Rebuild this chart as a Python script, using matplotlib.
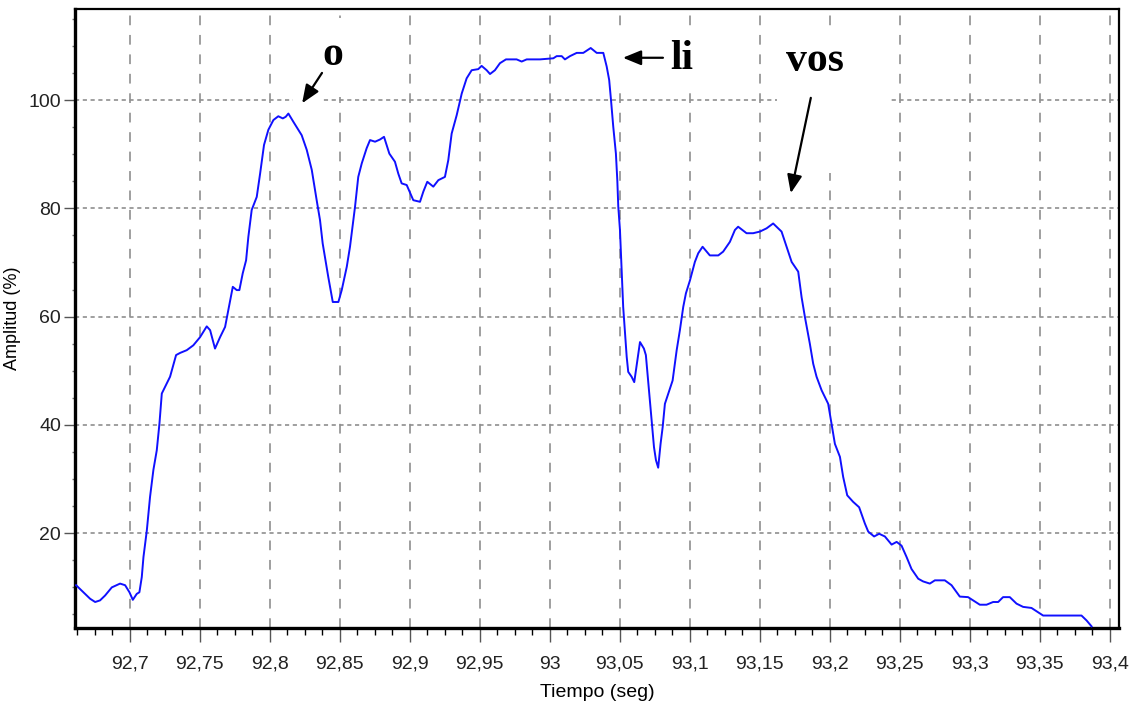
import matplotlib
matplotlib.use("Agg")
import matplotlib.pyplot as plt
from matplotlib.ticker import MultipleLocator, AutoMinorLocator, FuncFormatter
from matplotlib.patches import Rectangle

# Amplitude envelope of the spoken word, time in seconds
tiempo = [
    92.6618, 92.6670, 92.6718, 92.6754, 92.6789, 92.6825, 92.6873, 92.6932, 92.6968, 92.6999,
    92.7023, 92.7051, 92.7070, 92.7087, 92.7099, 92.7123, 92.7146, 92.7170, 92.7194, 92.7213,
    92.7230, 92.7253, 92.7289, 92.7332, 92.7361, 92.7408, 92.7455, 92.7503, 92.7551, 92.7575,
    92.7610, 92.7646, 92.7682, 92.7705, 92.7737, 92.7765, 92.7784, 92.7808, 92.7832, 92.7848,
    92.7872, 92.7908, 92.7932, 92.7960, 92.7991, 92.8027, 92.8062, 92.8094, 92.8115, 92.8134,
    92.8169, 92.8229, 92.8265, 92.8301, 92.8336, 92.8360, 92.8379, 92.8419, 92.8451, 92.8491,
    92.8515, 92.8551, 92.8574, 92.8610, 92.8633, 92.8658, 92.8693, 92.8717, 92.8753, 92.8788,
    92.8817, 92.8855, 92.8895, 92.8919, 92.8943, 92.8979, 92.9026, 92.9074, 92.9098, 92.9126,
    92.9169, 92.9205, 92.9252, 92.9276, 92.9300, 92.9336, 92.9372, 92.9407, 92.9443, 92.9490,
    92.9514, 92.9550, 92.9574, 92.9609, 92.9645, 92.9688, 92.9764, 92.9800, 92.9836, 92.9931,
    93.0026, 93.0050, 93.0086, 93.0109, 93.0145, 93.0193, 93.0240, 93.0293, 93.0336, 93.0383,
    93.0407, 93.0425, 93.0438, 93.0454, 93.0473, 93.0483, 93.0490, 93.0502, 93.0507, 93.0525,
    93.0538, 93.0550, 93.0561, 93.0585, 93.0604, 93.0621, 93.0645, 93.0673, 93.0687, 93.0711,
    93.0728, 93.0745, 93.0759, 93.0775, 93.0792, 93.0807, 93.0823, 93.0847, 93.0878, 93.0907,
    93.0930, 93.0954, 93.0973, 93.1002, 93.1037, 93.1061, 93.1092, 93.1144, 93.1204, 93.1239,
    93.1287, 93.1323, 93.1346, 93.1406, 93.1453, 93.1501, 93.1549, 93.1596, 93.1656, 93.1692,
    93.1728, 93.1775, 93.1799, 93.1823, 93.1858, 93.1882, 93.1906, 93.1942, 93.1989, 93.2013,
    93.2037, 93.2073, 93.2096, 93.2125, 93.2167, 93.2210, 93.2251, 93.2275, 93.2317, 93.2353,
    93.2394, 93.2442, 93.2478, 93.2513, 93.2549, 93.2584, 93.2632, 93.2667, 93.2715, 93.2751,
    93.2822, 93.2870, 93.2929, 93.2988, 93.3024, 93.3072, 93.3120, 93.3167, 93.3203, 93.3238,
    93.3286, 93.3334, 93.3381, 93.3441, 93.3488, 93.3524, 93.3595, 93.3798, 93.3834, 93.3870,
]
amplitud = [
    10.4, 9.1, 7.9, 7.3, 7.6, 8.5, 10.0, 10.7, 10.4, 9.1,
    7.7, 8.8, 9.1, 11.9, 15.6, 20.5, 26.7, 31.7, 35.3, 40.2,
    45.8, 47.0, 48.9, 52.9, 53.3, 53.8, 54.7, 56.2, 58.2, 57.5,
    54.1, 56.2, 58.1, 61.2, 65.5, 64.9, 64.9, 68.0, 70.4, 74.7,
    79.7, 82.1, 86.4, 91.7, 94.5, 96.3, 97.0, 96.6, 96.9, 97.5,
    96.0, 93.5, 90.8, 87.1, 81.5, 77.8, 73.5, 67.3, 62.7, 62.7,
    64.9, 69.2, 72.9, 80.3, 85.8, 88.3, 91.1, 92.6, 92.3, 92.7,
    93.2, 90.1, 88.6, 86.4, 84.6, 84.3, 81.5, 81.2, 83.1, 84.9,
    84.0, 85.2, 85.8, 88.9, 93.8, 97.2, 101.2, 104.0, 105.5, 105.7,
    106.3, 105.5, 104.8, 105.5, 106.8, 107.5, 107.5, 107.1, 107.5, 107.5,
    107.7, 108.1, 108.1, 107.5, 108.1, 108.7, 108.7, 109.6, 108.7, 108.7,
    106.2, 103.7, 100.0, 95.1, 90.1, 85.2, 80.3, 76.0, 72.9, 61.8,
    56.9, 52.6, 49.8, 48.9, 47.9, 51.0, 55.3, 54.1, 52.9, 45.8,
    40.9, 35.9, 33.5, 32.1, 36.5, 39.6, 43.9, 45.8, 48.2, 53.8,
    57.5, 61.8, 64.3, 66.7, 70.1, 71.7, 72.9, 71.3, 71.3, 72.0,
    73.8, 76.0, 76.6, 75.4, 75.4, 75.7, 76.3, 77.2, 75.7, 72.9,
    70.1, 68.3, 63.6, 59.9, 55.0, 51.3, 48.9, 46.4, 43.9, 40.2,
    36.5, 34.1, 30.4, 27.0, 25.8, 24.8, 21.8, 20.3, 19.4, 19.9,
    19.4, 17.9, 18.4, 17.7, 15.6, 13.4, 11.6, 11.1, 10.7, 11.3,
    11.3, 10.4, 8.3, 8.2, 7.6, 6.8, 6.8, 7.3, 7.3, 8.2,
    8.2, 7.0, 6.4, 6.2, 5.4, 4.8, 4.8, 4.8, 3.9, 2.8,
]

plt.rcParams['lines.scale_dashes'] = False
sans = ['Liberation Sans', 'DejaVu Sans']

fig = plt.figure(figsize=(11.31, 7.22), dpi=100)
ax = fig.add_axes([0.0663, 0.1302, 0.9231, 0.8573])

ax.plot(tiempo, amplitud, color='#1010ff', lw=1.4, zorder=5)

ax.set_xlim(92.661, 93.4066)
ax.set_ylim(2.5, 116.8)

ax.xaxis.set_major_locator(MultipleLocator(0.05))
ax.xaxis.set_minor_locator(AutoMinorLocator(4))
ax.yaxis.set_minor_locator(MultipleLocator(5))
ax.set_yticks([20, 40, 60, 80, 100])

def coma(v, pos):
    s = f"{v:.2f}".rstrip('0').rstrip('.')
    return s.replace('.', ',')

ax.xaxis.set_major_formatter(FuncFormatter(coma))

ax.tick_params(axis='both', which='major', labelsize=14, length=8, width=1,
               color='#555555', labelcolor='#222222')
ax.tick_params(axis='x', which='major', pad=10, length=10)
ax.tick_params(axis='y', which='major', pad=2)
ax.tick_params(axis='x', which='minor', length=5, width=1, color='black')
ax.tick_params(axis='y', which='minor', length=2.5, width=1, color='#777777')
for lab in ax.get_xticklabels() + ax.get_yticklabels():
    lab.set_family(sans)

# dashed grid, long dashes vertically, short dashes horizontally
for x in ax.get_xticks():
    ax.axvline(x, color='#8f8f8f', lw=1.2, dashes=(7, 7), zorder=1)
for y in [20, 40, 60, 80, 100]:
    ax.axhline(y, color='#8f8f8f', lw=1.2, dashes=(3, 2.6), zorder=1)

for side in ['left', 'bottom']:
    ax.spines[side].set_linewidth(2.4)
for side in ['top', 'right']:
    ax.spines[side].set_linewidth(1.6)

ax.set_xlabel('Tiempo (seg)', fontsize=14, family=sans, labelpad=8)
ax.set_ylabel('Amplitud (%)', fontsize=13, family=sans)
ax.yaxis.set_label_coords(-0.052, 0.5)

# white label boxes behind the syllable annotations
for x0, x1, y0, y1 in [(93.1623, 93.2429, 86.5, 112.9),
                       (93.0467, 93.1073, 102.8, 112.9),
                       (92.8382, 92.8589, 100.6, 115.2),
                       (92.8168, 92.8382, 99.4, 107.4)]:
    ax.add_patch(Rectangle((x0, y0), x1 - x0, y1 - y0, facecolor='white',
                           edgecolor='none', zorder=2))

serif = dict(family=['Liberation Serif', 'DejaVu Serif'], fontweight='bold',
             fontsize=30, ha='center', va='center', zorder=6)
arrow = dict(arrowstyle='-|>,head_length=1.1,head_width=0.45', color='black',
             lw=1.6, shrinkA=0, shrinkB=0)

ax.text(92.8453, 108.4, 'o', **serif)
ax.annotate('', xy=(92.8232, 99.4), xytext=(92.8374, 105.0), arrowprops=arrow, zorder=6)

ax.text(93.0944, 107.6, 'li', **serif)
ax.annotate('', xy=(93.0523, 107.8), xytext=(93.0809, 107.8), arrowprops=arrow, zorder=6)

ax.text(93.1894, 107.2, 'vos', **serif)
ax.annotate('', xy=(93.1722, 82.8), xytext=(93.1865, 100.4), arrowprops=arrow, zorder=6)

fig.savefig('out.png', dpi=100, facecolor='white')
